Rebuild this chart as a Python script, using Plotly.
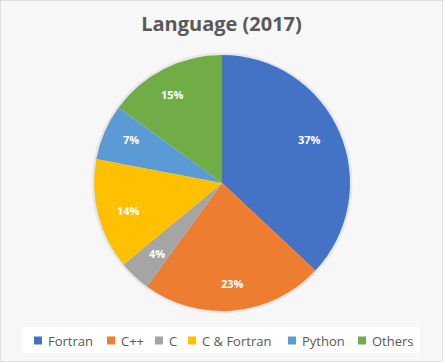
import math
import plotly.graph_objects as go

labels = ["Fortran", "C++", "C", "C & Fortran", "Python", "Others"]
values = [37, 23, 4, 14, 7, 15]
colors = ["#4472C4", "#ED7D31", "#A5A5A5", "#FFC000", "#5B9BD5", "#70AD47"]

legend_marker_px = [34, 107, 155, 188, 288, 358]

W, H = 443, 362
cx, cy, R = 222, 183, 128  # pixel centre (from top) and radius


def px2x(p):
    return p / W


def py2y(p):
    return 1 - p / H


fig = go.Figure()
fig.add_trace(go.Pie(
    labels=labels, values=values, sort=False, direction="clockwise", rotation=0,
    marker=dict(colors=colors, line=dict(width=0)),
    textinfo="none", hoverinfo="label+percent", showlegend=False,
    domain=dict(x=[px2x(cx - R), px2x(cx + R)], y=[py2y(cy + R), py2y(cy - R)]),
))

total = sum(values)
cum = 0
anns = []
shapes = [
    dict(type="rect", xref="paper", yref="paper", x0=0, y0=0, x1=1, y1=1,
         line=dict(color="#d9d9d9", width=1.5), layer="below"),
    dict(type="circle", xref="paper", yref="paper",
         x0=px2x(cx - R - 1), x1=px2x(cx + R + 1), y0=py2y(cy + R + 1), y1=py2y(cy - R - 1),
         line=dict(color="rgba(0,0,0,0.06)", width=3), layer="below"),
    dict(type="rect", xref="paper", yref="paper", x0=px2x(22), x1=px2x(420), y0=py2y(353), y1=py2y(327),
         fillcolor="white", line=dict(width=0), layer="below"),
]
for v in values:
    th = 2 * math.pi * (cum + v / 2) / total
    cum += v
    r = 0.86 * R
    px = cx + r * math.sin(th)
    py = cy - r * math.cos(th)
    anns.append(dict(x=px2x(px), y=py2y(py), xref="paper", yref="paper", showarrow=False,
                     text="%d%%" % round(100 * v / total),
                     font=dict(family="Open Sans", size=11, color="white", weight="bold")))

ly = 340.5
for lab, col, mx in zip(labels, colors, legend_marker_px):
    shapes.append(dict(type="rect", xref="paper", yref="paper",
                       x0=px2x(mx), x1=px2x(mx + 8), y0=py2y(ly + 4), y1=py2y(ly - 4),
                       fillcolor=col, line=dict(width=0)))
    anns.append(dict(x=px2x(mx + 12), y=py2y(ly), xref="paper", yref="paper", showarrow=False,
                     xanchor="left", yanchor="middle", text=lab,
                     font=dict(family="Open Sans", size=13, color="#595959")))

fig.update_layout(
    width=W, height=H, margin=dict(l=0, r=0, t=0, b=0),
    paper_bgcolor="#f7f7f7", plot_bgcolor="#f7f7f7",
    title=dict(text="<b>Language (2017)</b>", x=0.5, xanchor="center", y=py2y(24), yanchor="middle",
               font=dict(family="Open Sans", size=20, color="#595959")),
    showlegend=False,
    annotations=anns,
    shapes=shapes,
)
fig.write_html("out.html", config={"displayModeBar": False},
               post_script="document.body.style.margin='0';")
